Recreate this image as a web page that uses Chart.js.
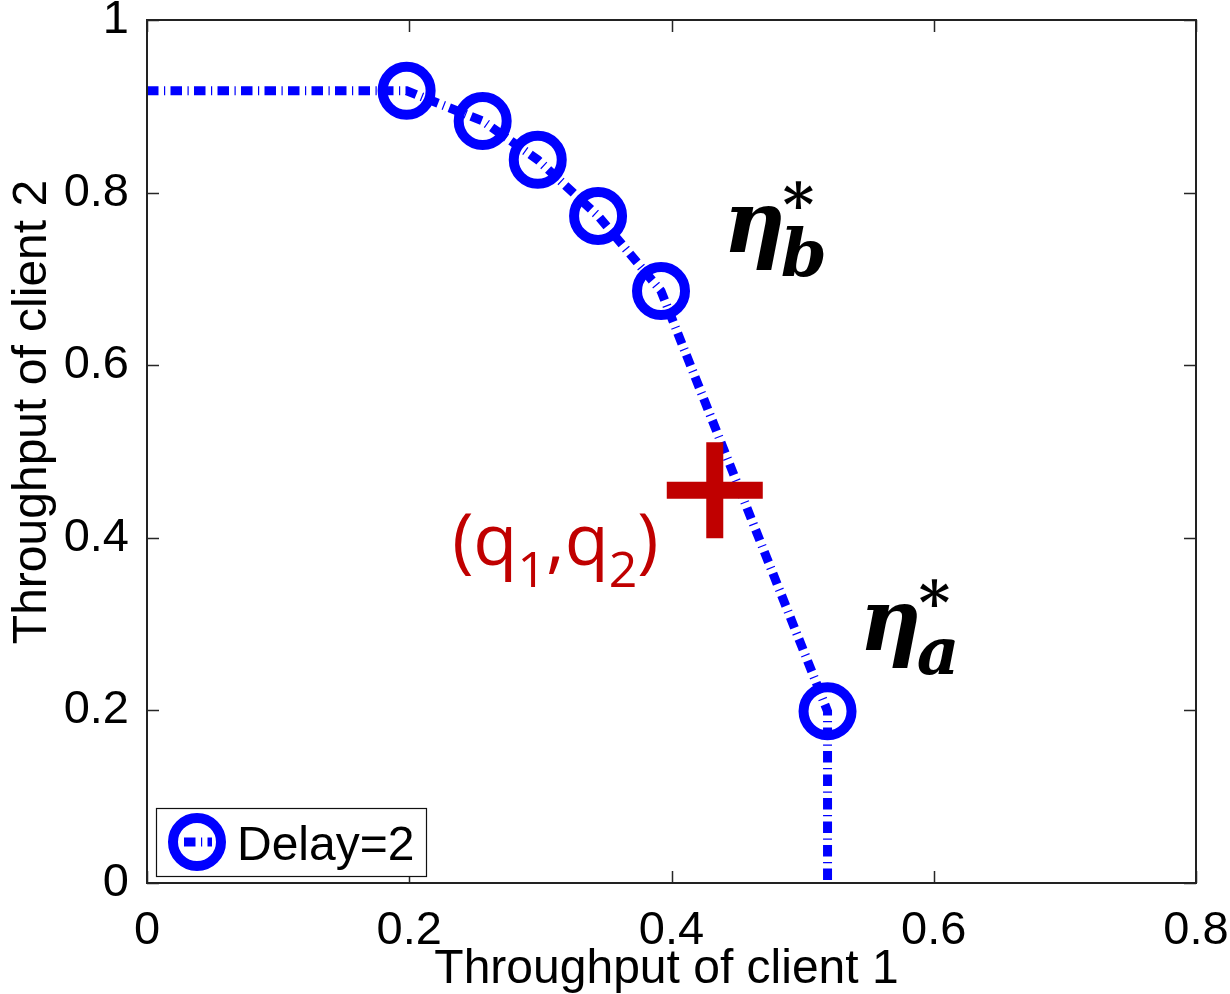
<!DOCTYPE html>
<html>
<head>
<meta charset="utf-8">
<script src="https://cdn.jsdelivr.net/npm/chart.js@4.4.0/dist/chart.umd.min.js"></script>
<style>
  html, body { margin: 0; padding: 0; background: #fff; }
  #wrap { width: 1230px; height: 994px; }
</style>
</head>
<body>
<div id="wrap"><canvas id="chart"></canvas></div>
<script>
// curve for Delay=2 (throughput of client 1 vs client 2)
const delayX = [0, 0.198, 0.256, 0.298, 0.344, 0.392, 0.519, 0.519];
const delayY = [0.918, 0.918, 0.883, 0.838, 0.773, 0.686, 0.199, 0];
const markerOn = [false, true, true, true, true, true, true, false];
// the (q1,q2) point
const qX = [0.433];
const qY = [0.455];
const xTicks = [0, 0.2, 0.4, 0.6, 0.8];
const yTicks = [0, 0.2, 0.4, 0.6, 0.8, 1];
const legendLabel = 'Delay=2';
const xTitle = 'Throughput of client 1';
const yTitle = 'Throughput of client 2';
// annotation anchors in data units
const qLabelAt = [0.2327, 0.3685];
const etaB = [0.4394, 0.7312];
const etaA = [0.5431, 0.270];

const BLUE = '#0000ff';
const RED = '#c00000';
const SANS = '"Liberation Sans", Arial, sans-serif';
const DASH = [11.5, 5.5, 1.2, 5.3];

const linePts = delayX.map((x, i) => ({ x: x, y: delayY[i] }));
const qPts = qX.map((x, i) => ({ x: x, y: qY[i] }));

function setTicks(vals) {
  return function (scale) { scale.ticks = vals.map(v => ({ value: v })); };
}

const overlay = {
  id: 'overlay',
  afterDraw(chart) {
    const ctx = chart.ctx;
    const a = chart.chartArea;
    const xs = chart.scales.x, ys = chart.scales.y;
    ctx.save();

    // inward ticks on all four sides
    ctx.strokeStyle = '#262626';
    ctx.lineWidth = 1.5;
    ctx.beginPath();
    xTicks.forEach(v => {
      const px = Math.round(xs.getPixelForValue(v)) + 0.5;
      ctx.moveTo(px, a.bottom); ctx.lineTo(px, a.bottom - 12);
      ctx.moveTo(px, a.top); ctx.lineTo(px, a.top + 12);
    });
    yTicks.forEach(v => {
      const py = Math.round(ys.getPixelForValue(v)) + 0.5;
      ctx.moveTo(a.left, py); ctx.lineTo(a.left + 12, py);
      ctx.moveTo(a.right, py); ctx.lineTo(a.right - 12, py);
    });
    ctx.stroke();

    // axes box
    ctx.lineWidth = 2;
    ctx.strokeStyle = '#222';
    ctx.strokeRect(a.left, a.top, a.right - a.left, a.bottom - a.top);

    // axis titles
    ctx.fillStyle = '#000';
    ctx.font = '48px ' + SANS;
    ctx.textAlign = 'center';
    ctx.textBaseline = 'alphabetic';
    ctx.fillText(xTitle, (a.left + a.right) / 2 - 5, 983);
    ctx.save();
    ctx.translate(46, 412);
    ctx.rotate(-Math.PI / 2);
    ctx.fillText(yTitle, 0, 0);
    ctx.restore();

    // legend
    ctx.textAlign = 'left';
    ctx.fillStyle = '#fff';
    ctx.fillRect(156.5, 808.5, 270, 68);
    ctx.lineWidth = 1.2;
    ctx.strokeStyle = '#111';
    ctx.strokeRect(156.5, 808.5, 270, 68);
    ctx.strokeStyle = BLUE;
    ctx.lineWidth = 9;
    ctx.setLineDash(DASH);
    ctx.beginPath();
    ctx.moveTo(184, 842); ctx.lineTo(212, 842);
    ctx.stroke();
    ctx.setLineDash([]);
    ctx.lineWidth = 10;
    ctx.beginPath();
    ctx.arc(197, 842, 24, 0, Math.PI * 2);
    ctx.stroke();
    ctx.fillStyle = '#000';
    ctx.font = '48px ' + SANS;
    ctx.fillText(legendLabel, 237, 860);

    // (q1,q2) label
    let x = xs.getPixelForValue(qLabelAt[0]);
    const yb = ys.getPixelForValue(qLabelAt[1]);
    ctx.fillStyle = RED;
    const parts = [['(', 0], ['q', 0], ['1', 1], [',', 0], ['q', 0], ['2', 1], [')', 0]];
    parts.forEach(p => {
      ctx.font = (p[1] ? '50px ' : '72px ') + '"Open Sans", "Noto Sans", sans-serif';
      ctx.fillText(p[0], x, yb + (p[1] ? 22 : 0));
      x += ctx.measureText(p[0]).width;
    });

    // eta labels
    function eta(pos, sub) {
      const ex = xs.getPixelForValue(pos[0]);
      const ey = ys.getPixelForValue(pos[1]);
      ctx.fillStyle = '#000';
      ctx.font = 'bold italic 86px "DejaVu Serif", serif';
      ctx.fillText('\u03b7', ex, ey);
      const w = ctx.measureText('\u03b7').width;
      ctx.font = 'bold italic 66px "DejaVu Serif", serif';
      ctx.fillText(sub, ex + w - 5, ey + 24);
      ctx.font = 'bold 60px "DejaVu Serif", serif';
      ctx.fillText('*', ex + w - 3, ey - 26);
    }
    eta(etaB, 'b');
    eta(etaA, 'a');

    ctx.restore();
  }
};

new Chart(document.getElementById('chart'), {
  type: 'scatter',
  data: {
    datasets: [
      {
        label: 'q',
        data: qPts,
        order: 0,
        pointStyle: 'cross',
        pointRadius: 48,
        pointBorderWidth: 17,
        borderColor: RED,
        backgroundColor: RED
      },
      {
        label: legendLabel,
        data: linePts,
        order: 1,
        showLine: true,
        borderColor: BLUE,
        borderWidth: 9,
        borderDash: DASH,
        borderCapStyle: 'butt',
        pointRadius: markerOn.map(m => (m ? 24 : 0)),
        pointBorderWidth: 10,
        pointBorderColor: BLUE,
        pointBackgroundColor: 'rgba(0,0,0,0)',
        clip: false
      }
    ]
  },
  options: {
    responsive: true,
    maintainAspectRatio: false,
    animation: false,
    events: [],
    layout: { autoPadding: false, padding: { top: 20, right: 34, bottom: 0, left: 0 } },
    plugins: {
      legend: { display: false },
      tooltip: { enabled: false }
    },
    scales: {
      x: {
        type: 'linear',
        min: 0,
        max: 0.8,
        afterBuildTicks: setTicks(xTicks),
        grid: { display: false },
        border: { display: false },
        ticks: {
          color: '#000',
          font: { family: SANS, size: 47 },
          padding: 12,
          maxRotation: 0,
          autoSkip: false,
          callback: v => String(+v.toFixed(1))
        },
        afterFit(s) {
          s.height = 111;
          s.paddingLeft = 0;
          s.paddingRight = 0;
        }
      },
      y: {
        type: 'linear',
        min: 0,
        max: 1,
        afterBuildTicks: setTicks(yTicks),
        grid: { display: false },
        border: { display: false },
        ticks: {
          color: '#000',
          font: { family: SANS, size: 47 },
          padding: 10,
          autoSkip: false,
          callback: v => String(+v.toFixed(1))
        },
        afterFit(s) {
          s.width = 147;
          s.paddingTop = 0;
          s.paddingBottom = 0;
        }
      }
    }
  },
  plugins: [overlay]
});
</script>
</body>
</html>
